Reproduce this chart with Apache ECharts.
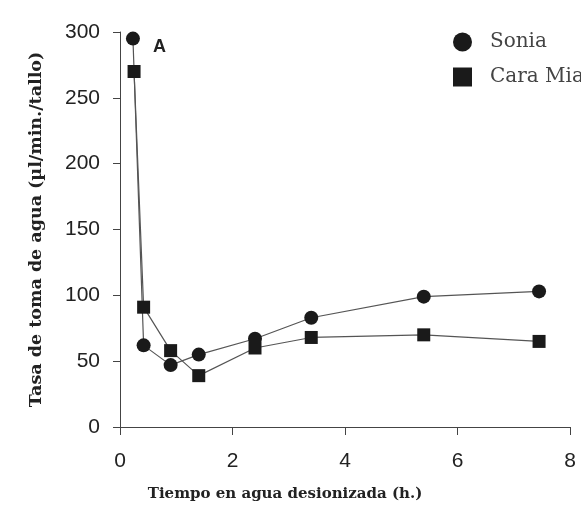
<!DOCTYPE html>
<html><head><meta charset="utf-8">
<script src="https://cdn.jsdelivr.net/npm/echarts@6/dist/echarts.min.js"></script>
<style>html,body{margin:0;padding:0;background:#fff}#c{width:581px;height:510px}</style>
</head><body><div id="c"></div>
<script>
const soniaX = [0.23, 0.42, 0.9, 1.4, 2.4, 3.4, 5.4, 7.45];
const soniaY = [295, 62, 47, 55, 67, 83, 99, 103];
const caraX = [0.25, 0.42, 0.9, 1.4, 2.4, 3.4, 5.4, 7.45];
const caraY = [270, 91, 58, 39, 60, 68, 70, 65];
const xTicks = [0, 2, 4, 6, 8];
const yTicks = [0, 50, 100, 150, 200, 250, 300];

const zip = (xs, ys) => xs.map((x, i) => [x, ys[i]]);
const chart = echarts.init(document.getElementById('c'));
const serif = '"DejaVu Serif",serif';
const sans = '"Liberation Sans",Arial,sans-serif';
chart.setOption({
  animation: false,
  backgroundColor: '#fff',
  grid: {left: 120, right: 11, top: 32, bottom: 83, containLabel: false},
  xAxis: {
    type: 'value', min: xTicks[0], max: xTicks[xTicks.length-1], interval: 2,
    axisLine: {show: true, lineStyle: {color: '#444', width: 1}},
    axisTick: {show: true, length: 8, lineStyle: {color: '#444'}},
    axisLabel: {margin: 24, fontSize: 21, color: '#222', fontFamily: sans},
    splitLine: {show: false},
    name: 'Tiempo en agua desionizada (h.)', nameLocation: 'middle', nameGap: 60,
    nameTextStyle: {fontFamily: serif, fontWeight: 'bold', fontSize: 15, color: '#222', padding: [0, 120, 0, 0]}
  },
  yAxis: {
    type: 'value', min: yTicks[0], max: yTicks[yTicks.length-1], interval: 50,
    axisLine: {show: true, lineStyle: {color: '#444', width: 1}},
    axisTick: {show: true, length: 7, lineStyle: {color: '#444'}},
    axisLabel: {margin: 20, fontSize: 21, color: '#222', fontFamily: sans},
    splitLine: {show: false},
    name: 'Tasa de toma de agua (µl/min./tallo)', nameLocation: 'middle', nameGap: 75,
    nameTextStyle: {fontFamily: serif, fontWeight: 'bold', fontSize: 17.5, color: '#222'}
  },
  legend: {
    orient: 'vertical', left: 453, top: 32, itemGap: 15, padding: 0,
    itemWidth: 19, itemHeight: 19,
    textStyle: {fontFamily: serif, fontSize: 20, color: '#444', padding: [0, 0, 0, 13]},
    data: [{name: 'Sonia', icon: 'circle'}, {name: 'Cara Mia', icon: 'rect'}]
  },
  graphic: [{type: 'text', left: 153, top: 38, style: {text: 'A', fontFamily: 'Liberation Sans', fontWeight: 'bold', fontSize: 18, fill: '#222'}}],
  series: [
    {name: 'Sonia', type: 'line', data: zip(soniaX, soniaY), symbol: 'circle', symbolSize: 14,
     itemStyle: {color: '#1a1a1a'}, lineStyle: {color: '#555', width: 1.2}},
    {name: 'Cara Mia', type: 'line', data: zip(caraX, caraY), symbol: 'rect', symbolSize: 13,
     itemStyle: {color: '#1a1a1a'}, lineStyle: {color: '#555', width: 1.2}}
  ]
});
</script></body></html>
